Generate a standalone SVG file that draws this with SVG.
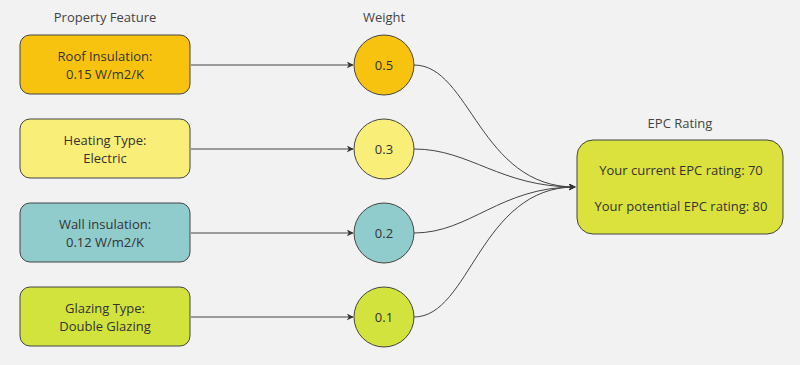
<svg xmlns="http://www.w3.org/2000/svg" width="800" height="365" viewBox="0 0 800 365">
<defs>
<marker id="arr" viewBox="0 0 10 10" refX="9" refY="5" markerWidth="7" markerHeight="7" orient="auto" markerUnits="userSpaceOnUse">
<path d="M0,0 L10,5 L0,10 L3,5 Z" fill="#333"/>
</marker>
<style>
text{font-family:"Open Sans","Liberation Sans",sans-serif;font-size:13px;fill:#333;text-anchor:middle}
.box{stroke:#444;stroke-width:1}
.c{fill:none;stroke:#444;stroke-width:1;marker-end:url(#arr)}
.hd{fill:#444}
</style>
</defs>
<rect width="800" height="365" fill="#f2f2f2"/>
<text class="hd" x="105" y="22">Property Feature</text>
<text class="hd" x="384" y="22">Weight</text>
<text class="hd" x="680" y="128">EPC Rating</text>
<g id="connectors">
<path class="c" d="M191,65 L353,65"/>
<path class="c" d="M191,149 L353,149"/>
<path class="c" d="M191,233 L353,233"/>
<path class="c" d="M191,317 L353,317"/>
<path class="c" d="M414,65 C470,65 480,187 575,187"/>
<path class="c" d="M414,149 C470,149 500,187 575,187"/>
<path class="c" d="M414,233 C470,233 500,187 575,187"/>
<path class="c" d="M414,317 C470,317 480,187 575,187"/>
</g>
<g id="roof">
<rect class="box" x="20" y="35" width="170" height="59" rx="10" fill="#f8c30f"/>
<text x="105" y="61">Roof Insulation:</text>
<text x="105" y="79">0.15 W/m2/K</text>
</g>
<g id="heating">
<rect class="box" x="20" y="119" width="170" height="59" rx="10" fill="#f8ee78"/>
<text x="105" y="145">Heating Type:</text>
<text x="105" y="163">Electric</text>
</g>
<g id="wall">
<rect class="box" x="20" y="203" width="170" height="59" rx="10" fill="#90cccc"/>
<text x="105" y="229">Wall insulation:</text>
<text x="105" y="247">0.12 W/m2/K</text>
</g>
<g id="glazing">
<rect class="box" x="20" y="287" width="170" height="59" rx="10" fill="#d2e33e"/>
<text x="105" y="313">Glazing Type:</text>
<text x="105" y="331">Double Glazing</text>
</g>
<g id="w1">
<circle class="box" cx="384" cy="65" r="30" fill="#f8c30f"/>
<text x="384" y="70">0.5</text>
</g>
<g id="w2">
<circle class="box" cx="384" cy="149" r="30" fill="#f8ee78"/>
<text x="384" y="154">0.3</text>
</g>
<g id="w3">
<circle class="box" cx="384" cy="233" r="30" fill="#90cccc"/>
<text x="384" y="238">0.2</text>
</g>
<g id="w4">
<circle class="box" cx="384" cy="317" r="30" fill="#d2e33e"/>
<text x="384" y="322">0.1</text>
</g>
<g id="epc">
<rect class="box" x="577" y="140" width="206" height="94" rx="16" fill="#dbe23e"/>
<text x="681" y="175">Your current EPC rating: 70</text>
<text x="681" y="211">Your potential EPC rating: 80</text>
</g>
</svg>
